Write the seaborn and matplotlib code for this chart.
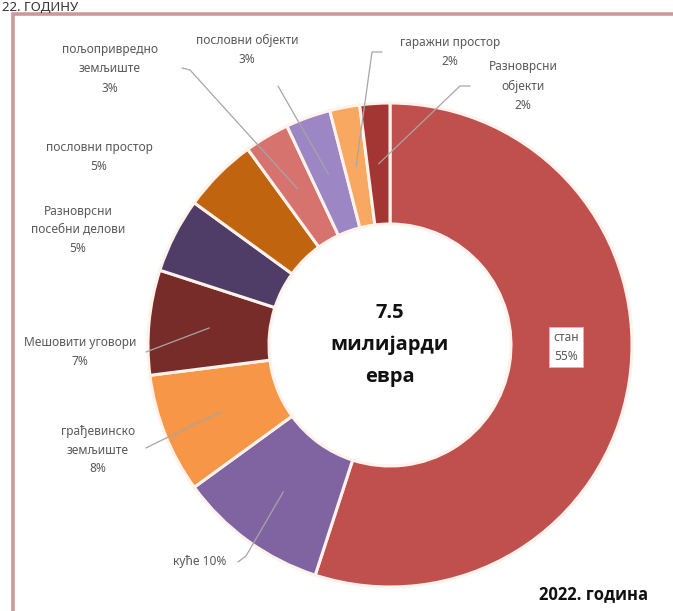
import numpy as np
import matplotlib
matplotlib.use("Agg")
import matplotlib.pyplot as plt
import seaborn as sns
from matplotlib.patches import Rectangle

# ---- data ----
categories = ["стан", "куће", "грађевинско\nземљиште", "Мешовити уговори",
              "Разноврсни\nпосебни делови", "пословни простор",
              "пољопривредно\nземљиште", "пословни објекти",
              "гаражни простор", "Разноврсни\nобјекти"]
shares = [55, 10, 8, 7, 5, 5, 3, 3, 2, 2]
colors = ["#c0504d", "#8064a2", "#f79646", "#772c2a", "#4f3d68",
          "#c0640f", "#d6736f", "#9c86c4", "#f9a862", "#a33532"]
center_lines = ["7.5", "милијарди", "евра"]
year_label = "2022. година"
top_cut = "22. ГОДИНУ"

sns.set_theme(style="white")
plt.rcParams["font.family"] = ["Noto Sans", "DejaVu Sans"]

W, H = 673, 611
fig = plt.figure(figsize=(W / 100, H / 100), dpi=100)
ax = fig.add_axes([0, 0, 1, 1])

def Y(y):
    return H - y

cx, cy, R = 390, Y(345), 242
wedges, _ = ax.pie(shares, colors=colors, startangle=90, counterclock=False,
                   radius=R, center=(cx, cy), frame=True,
                   wedgeprops=dict(width=R * 0.5, edgecolor="#fdf3ec", linewidth=2.2))
ax.set_xlim(0, W)
ax.set_ylim(0, H)
ax.set_aspect("equal")
ax.axis("off")

# frame
ax.add_patch(Rectangle((12.5, Y(700)), 700, 700 - 14, fill=False,
                       edgecolor="#cf9799", lw=2.6, zorder=0))
ax.text(2, Y(1), top_cut, fontsize=9.5, color="#333333", va="top", ha="left")

def anchor(i, frac=0.75):
    w = wedges[i]
    ang = np.deg2rad((w.theta1 + w.theta2) / 2)
    return cx + R * frac * np.cos(ang), cy + R * frac * np.sin(ang)

txt_kw = dict(fontsize=8.6, color="#595959", ha="center", va="center", linespacing=1.6)

labels_pos = {
    1: (200, 562),
    2: (98, 450),
    3: (80, 352),
    4: (78, 230),
    5: (99, 157),
    6: (110, 69),
    7: (247, 50),
    8: (450, 52),
    9: (523, 86),
}
# leader line starting points (text side, image coords)
leader_pts = {
    1: [(238, 562), (246, 556)],
    2: [(146, 448), (160, 441)],
    3: [(146, 352)],
    6: [(182, 68), (190, 70)],
    7: [(278, 86)],
    8: [(382, 52), (372, 52)],
    9: [(470, 86), (460, 86)],
}

for i, (x, y) in labels_pos.items():
    name = categories[i]
    if i == 1:
        s = f"{name} {shares[i]}%"
    else:
        s = f"{name}\n{shares[i]}%"
    ax.text(x, Y(y), s, **txt_kw)

for i, pts in leader_pts.items():
    ax_, ay_ = anchor(i)
    xs = [p[0] for p in pts] + [ax_]
    ys = [Y(p[1]) for p in pts] + [ay_]
    ax.plot(xs, ys, color="#a6a6a6", lw=0.9, zorder=5)

# стан label box
ax.text(566, Y(347), f"{categories[0]}\n{shares[0]}%", fontsize=8.6, color="#595959",
        ha="center", va="center", linespacing=1.6, zorder=6,
        bbox=dict(boxstyle="square,pad=0.35", facecolor="white", edgecolor="#bfbfbf", lw=0.6))

bold_family = ["Open Sans", "DejaVu Sans"]
# center text
for k, line in enumerate(center_lines):
    ax.text(cx, Y(313 + 32 * k), line, fontsize=14.5, fontweight="bold",
            family=bold_family, color="#111111", ha="center", va="center")

ax.text(594, Y(594), year_label, fontsize=12, fontweight="bold", family=bold_family,
        color="#111111", ha="center", va="center")

fig.savefig("out.png", dpi=100)
